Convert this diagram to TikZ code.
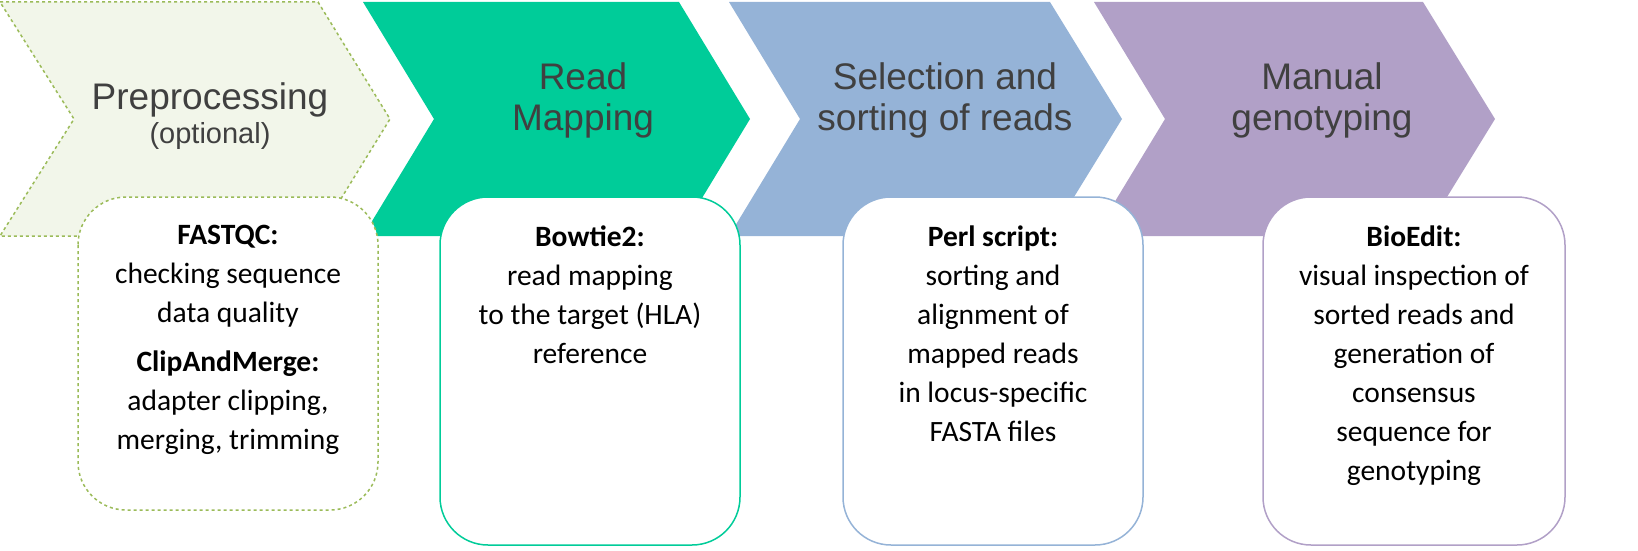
\documentclass[tikz,border=0pt]{standalone}
\usepackage{fontspec}
\setmainfont{Liberation Sans}
\newfontfamily\boxfont{Carlito}
\definecolor{cA}{HTML}{F2F6EA}
\definecolor{cAb}{HTML}{9BBB59}
\definecolor{cB}{HTML}{00CC99}
\definecolor{cC}{HTML}{95B3D7}
\definecolor{cD}{HTML}{B1A0C7}
\definecolor{tx}{HTML}{404040}
\begin{document}
\begin{tikzpicture}[x=1pt,y=-1pt,
  title/.style={text=tx,align=center,font=\fontsize{37}{41}\selectfont},
  boxtxt/.style={align=center,anchor=north,font=\boxfont\fontsize{29.5}{39}\selectfont},
  card/.style={fill=white,rounded corners=48pt,line width=1.5pt}]
\useasboundingbox (0,0) rectangle (1638,551);
% chevrons
\fill[cA] (0,2) -- (318,2) -- (390,119) -- (318,236) -- (0,236) -- (74,119) -- cycle;
\draw[cAb,dashed,line width=1.5pt] (0,2) -- (318,2) -- (390,119) -- (318,236) -- (0,236) -- (74,119) -- cycle;
\fill[cB] (363,2) -- (679,2) -- (750,119) -- (679,236) -- (363,236) -- (434,119) -- cycle;
\fill[cC] (729,2) -- (1050,2) -- (1122,119) -- (1050,236) -- (729,236) -- (800,119) -- cycle;
\fill[cD] (1094,2) -- (1423,2) -- (1495,119) -- (1423,236) -- (1094,236) -- (1165,119) -- cycle;
\node[title] (t1) at (210,100) {Preprocessing};
\node[title,font=\fontsize{29}{33}\selectfont] (t1b) at (210,136) {(optional)};
\node[title] (t2) at (583,100) {Read\\Mapping};
\node[title] (t3) at (945,100) {Selection and\\sorting of reads};
\node[title] (t4) at (1322,100) {Manual\\genotyping};
% cards
\draw[card,draw=cAb,dashed] (78,197) rectangle (378,510);
\draw[card,draw=cB] (440,197) rectangle (740,545);
\draw[card,draw=cC] (843,197) rectangle (1143,545);
\draw[card,draw=cD] (1263,197) rectangle (1565,545);
\node[boxtxt] (b1) at (228,222) {\textbf{FASTQC:}\\checking sequence\\data quality\\[10pt]\textbf{ClipAndMerge:}\\adapter clipping,\\merging, trimming};
\node[boxtxt] (b2) at (590,222) {\textbf{Bowtie2:}\\read mapping\\to the target (HLA)\\reference};
\node[boxtxt] (b3) at (993,222) {\textbf{Perl script:}\\sorting and\\alignment of\\mapped reads\\in locus-specific\\FASTA files};
\node[boxtxt] (b4) at (1414,222) {\textbf{BioEdit:}\\visual inspection of\\sorted reads and\\generation of\\consensus\\sequence for\\genotyping};
\end{tikzpicture}
\end{document}
